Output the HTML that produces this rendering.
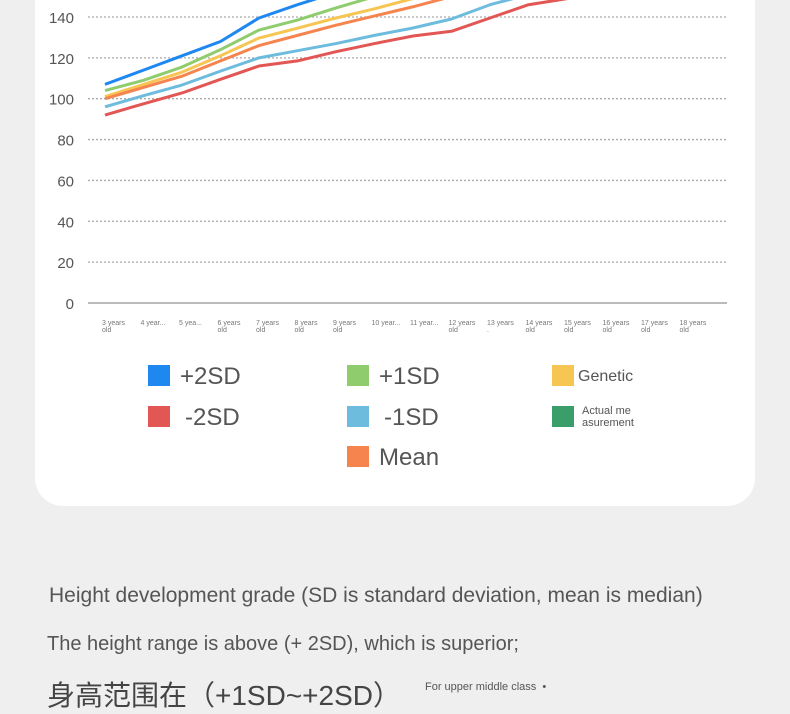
<!DOCTYPE html>
<html><head><meta charset="utf-8"><style>
body{margin:0;width:790px;height:700px;background:#efefef;overflow:hidden;position:relative;font-family:"Liberation Sans","Noto Sans CJK SC",sans-serif;color:#555}
#card{position:absolute;left:35px;top:-40px;width:720px;height:546px;background:#fff;border-radius:28px}
svg{position:absolute;left:0;top:0}
.t{position:absolute;white-space:nowrap}
</style></head><body>
<div id="card"></div>
<svg id="chart" width="790" height="520"></svg>
<div class="t" style="left:49px;top:584px;font-size:21px;color:#555">Height development grade (SD is standard deviation, mean is median)</div>
<div class="t" style="left:47px;top:633px;font-size:20px;color:#555">The height range is above (+ 2SD), which is superior;</div>
<div class="t" style="left:47px;top:674px;font-size:28px;color:#444">身高范围在（+1SD~+2SD）</div>
<div class="t" style="left:425px;top:681px;font-size:11px;color:#555">For upper middle class&nbsp;&nbsp;•</div>
<script>
const categories=["3 years old","4 year...","5 yea...","6 years old","7 years old","8 years old","9 years old","10 year...","11 year...","12 years old","13 years .","14 years old","15 years old","16 years old","17 years old","18 years old"];
const yTicks=[0,20,40,60,80,100,120,140];
const plus2sd=[107,114,121,128,139.5,146,152,158,164,170,175,178,180,181,182,183];
const plus1sd=[104,109,115.5,124,133.6,138.5,144.4,150,156,162,168,172,174,175,176,177];
const genetic=[101,107,113,121,129.7,134.5,139.5,144,149,155,161,166,169,170,171,172];
const mean=[100,105.5,111,118.5,126,131,136,140.5,145,150,156,161,164,165,166,167];
const minus1sd=[96,101.5,106.7,113.5,120,123.5,127,131,134.6,139,146,151,154,155,156,157];
const minus2sd=[92,97.5,102.8,109.5,116,118.5,123,127,130.7,133,139.5,146,149,150,151,152];
const seriesNames=["plus2sd","plus1sd","genetic","mean","minus1sd","minus2sd"];
const seriesData=[plus2sd,plus1sd,genetic,mean,minus1sd,minus2sd];
const seriesColors=["#1e88f0","#8fcc6e","#f7c552","#f5844f","#6dbcde","#e25654"];
const legendLabels=["+2SD","-2SD","+1SD","-1SD","Mean","Genetic","Actual me|asurement"];
const legendColors=["#1e88f0","#e25654","#8fcc6e","#6dbcde","#f5844f","#f7c552","#3a9e6a"];
const NS="http://www.w3.org/2000/svg";
const svg=document.getElementById('chart');
const x0=88,x1=727,y0=303,yPer=2.043;
const step=38.5;
const X=i=>105+i*step;
const Y=v=>y0-v*yPer;
function mk(t,a){const e=document.createElementNS(NS,t);for(const k in a)e.setAttribute(k,a[k]);svg.appendChild(e);return e;}
yTicks.forEach(v=>{
  if(v>0){const l=mk('line',{x1:x0,x2:x1,y1:Y(v),y2:Y(v),stroke:'#aaa','stroke-width':1.3,'stroke-dasharray':'2 2'});
  
  }
  const t=mk('text',{x:74,y:Y(v)+6,'text-anchor':'end','font-size':15,fill:'#555','font-family':'Liberation Sans,sans-serif'});
  t.textContent=v;
  
  
});
const base=mk('line',{x1:x0,x2:x1,y1:y0,y2:y0,stroke:'#bbb','stroke-width':2});


categories.forEach((c,i)=>{
  const lx=X(i)-3;
  const t=mk('text',{x:lx,y:y0+22,'font-size':7,fill:'#777','font-family':'Liberation Sans,sans-serif'});
  const w=c.split(' ');
  if(w.length>2){t.textContent=w[0]+' '+w[1];const t2=mk('text',{x:lx,y:y0+29,'font-size':7,fill:'#777'});t2.textContent=w.slice(2).join(' ');}
  else t.textContent=c;
  
  
});
seriesData.forEach((d,s)=>{
  let p='';d.forEach((v,i)=>{p+=(i?'L':'M')+X(i)+' '+Y(v);});
  const path=mk('path',{d:p,fill:'none',stroke:seriesColors[s],'stroke-width':3,'stroke-linejoin':'round'});
  
  
});
const lpos=[[148,365],[148,406],[347,365],[347,406],[347,446],[552,365],[552,406]];
legendLabels.forEach((lab,i)=>{
  const [lx,ly]=lpos[i];
  const r=mk('rect',{x:lx,y:ly,width:22,height:21,fill:legendColors[i]});
  
  
  if(lab.includes('|')){lab.split('|').forEach((p,k)=>{const t=mk('text',{x:lx+30,y:ly+8+k*12,'font-size':11,fill:'#555'});t.textContent=p;});}
  else{const big=i<5;const t=mk('text',{x:lx+(big?(lab[0]=='-'?37:32):26),y:ly+(big?19:16),'font-size':big?24:16,fill:'#555'});
  t.textContent=lab;
  
  }
});
</script>
</body></html>
